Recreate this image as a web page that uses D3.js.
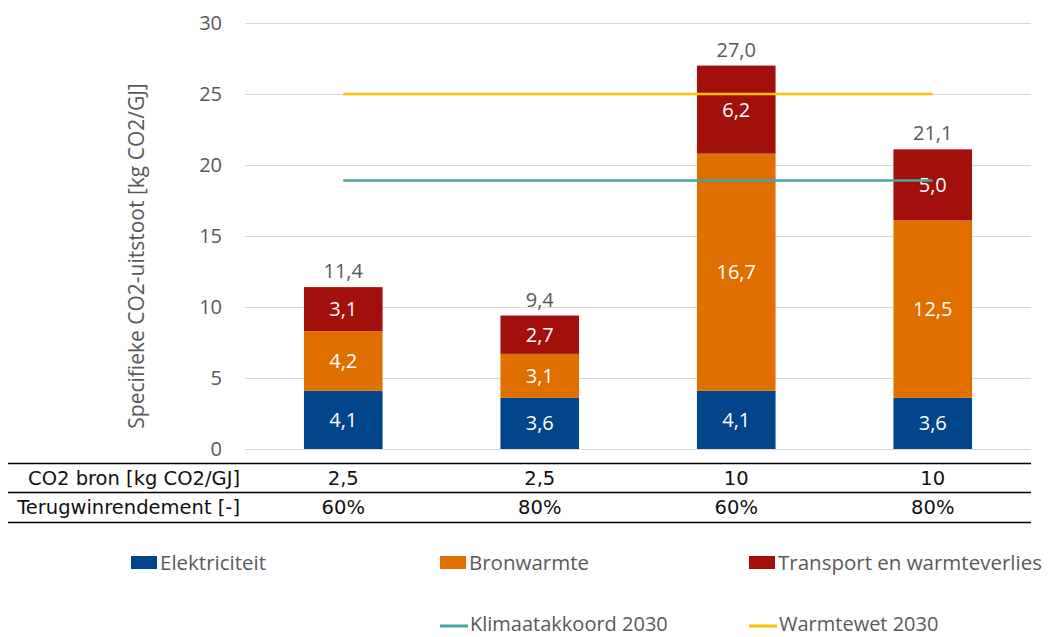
<!DOCTYPE html>
<html><head><meta charset="utf-8">
<script src="https://cdn.jsdelivr.net/npm/d3@7"></script>
<style>body{margin:0;background:#fff;} text{font-family:"Open Sans", sans-serif;}</style>
</head><body>
<svg id="c" width="1057" height="637"></svg>
<script>
const categories = ["c1","c2","c3","c4"];
const co2Bron = ["2,5","2,5","10","10"];
const terugwin = ["60%","80%","60%","80%"];
const elektriciteit = [4.1, 3.6, 4.1, 3.6];
const bronwarmte = [4.2, 3.1, 16.7, 12.5];
const transport = [3.1, 2.7, 6.2, 5.0];
const klimaatakkoord = [18.9, 18.9, 18.9, 18.9];
const warmtewet = [25, 25, 25, 25];
const yTicks = [0,5,10,15,20,25,30];
const seriesNames = ["Elektriciteit","Bronwarmte","Transport en warmteverlies"];
const lineNames = ["Klimaatakkoord 2030","Warmtewet 2030"];
const colors = ["#03458A","#DF7000","#A30F0B"];
const lineColors = ["#4AA3A3","#FFC000"];

(function(){
const svg = d3.select("#c");
const pL = 245, pR = 1031, pT = 23, pB = 449;
const x = d3.scaleBand().domain(categories).range([pL, pR]).paddingInner(0.6).paddingOuter(0.3);
const xc = d => x(d) + x.bandwidth()/2;
const y = d3.scaleLinear().domain([0,30]).range([pB, pT]);
const fmt = v => d3.format(".1f")(v).replace(".", ",");

// gridlines
svg.append("g").selectAll("line").data(yTicks).join("line")
  .attr("x1", pL).attr("x2", pR)
  .attr("y1", d => y(d)+0.5).attr("y2", d => y(d)+0.5)
  .attr("stroke", "#D9D9D9").attr("stroke-width", 1);

// y axis labels
const yAxis = d3.axisLeft(y).tickValues(yTicks).tickSize(0).tickPadding(0);
const ga = svg.append("g").attr("transform", `translate(222,0)`).call(yAxis);
ga.select(".domain").remove();
ga.selectAll("text").attr("font-size", 20).attr("fill", "#595959").style("font-family","Open Sans");

// y title
svg.append("text").attr("transform", "translate(144,256) rotate(-90)")
  .attr("text-anchor", "middle").attr("font-size", 21).attr("fill", "#595959")
  .text("Specifieke CO2-uitstoot [kg CO2/GJ]");

// stacked bars
const rows = categories.map((c,i) => ({cat:c, Elektriciteit: elektriciteit[i], Bronwarmte: bronwarmte[i], "Transport en warmteverlies": transport[i]}));
const stack = d3.stack().keys(seriesNames)(rows);
const gb = svg.append("g");
stack.forEach((s, si) => {
  gb.append("g").selectAll("rect").data(s).join("rect")
    .attr("x", d => x(d.data.cat)).attr("width", x.bandwidth())
    .attr("y", d => y(d[1])).attr("height", d => y(d[0]) - y(d[1]))
    .attr("fill", colors[si]);
  gb.append("g").selectAll("text").data(s).join("text")
    .attr("x", d => xc(d.data.cat)).attr("y", d => (y(d[0]) + y(d[1]))/2 + 7)
    .attr("text-anchor", "middle").attr("font-size", 20).attr("fill", "#fff")
    .text(d => fmt(d[1]-d[0]));
});

// lines
[klimaatakkoord, warmtewet].forEach((vals, li) => {
  const line = d3.line().x((d,i) => xc(categories[i])).y(d => y(d));
  svg.append("path").datum(vals).attr("d", line).attr("fill","none")
    .attr("stroke", lineColors[li]).attr("stroke-width", 2.5);
});

// totals
const totals = categories.map((c,i) => elektriciteit[i]+bronwarmte[i]+transport[i]);
svg.append("g").selectAll("text").data(totals).join("text")
  .attr("x", (d,i) => xc(categories[i])).attr("y", d => y(d) - 9)
  .attr("text-anchor", "middle").attr("font-size", 20).attr("fill", "#595959")
  .text(d => fmt(d));

// table
const tableLines = [463, 492, 522];
svg.append("g").selectAll("line").data(tableLines).join("line")
  .attr("x1", 8).attr("x2", pR).attr("y1", d => d+0.5).attr("y2", d => d+0.5)
  .attr("stroke", "#000").attr("stroke-width", 1.3);
const tableRows = [{label:"CO2 bron [kg CO2/GJ]", vals: co2Bron, y: 485}, {label:"Terugwinrendement [-]", vals: terugwin, y: 514}];
const tf = "'DejaVu Sans', sans-serif";
tableRows.forEach(r => {
  svg.append("text").attr("x", 240).attr("y", r.y).attr("text-anchor","end")
    .style("font-family", tf).attr("font-size", 19.5).attr("fill", "#111").text(r.label);
  svg.append("g").selectAll("text").data(r.vals).join("text")
    .attr("x", (d,i) => xc(categories[i])).attr("y", r.y).attr("text-anchor","middle")
    .style("font-family", tf).attr("font-size", 19.5).attr("fill", "#111").text(d => d);
});

// legend
const legX = [131, 440, 749];
seriesNames.forEach((n, i) => {
  svg.append("rect").attr("x", legX[i]).attr("y", 556).attr("width", 26).attr("height", 13).attr("fill", colors[i]);
  svg.append("text").attr("x", legX[i] + 29).attr("y", 570).attr("font-size", 20.5).attr("fill", "#595959").text(n);
});
lineNames.forEach((n, i) => {
  const lx = legX[i+1];
  svg.append("line").attr("x1", lx).attr("x2", lx+28).attr("y1", 626).attr("y2", 626)
    .attr("stroke", lineColors[i]).attr("stroke-width", 3);
  svg.append("text").attr("x", lx + 30).attr("y", 631).attr("font-size", 20).attr("fill", "#595959").text(n);
});
})();
</script>
</body></html>
